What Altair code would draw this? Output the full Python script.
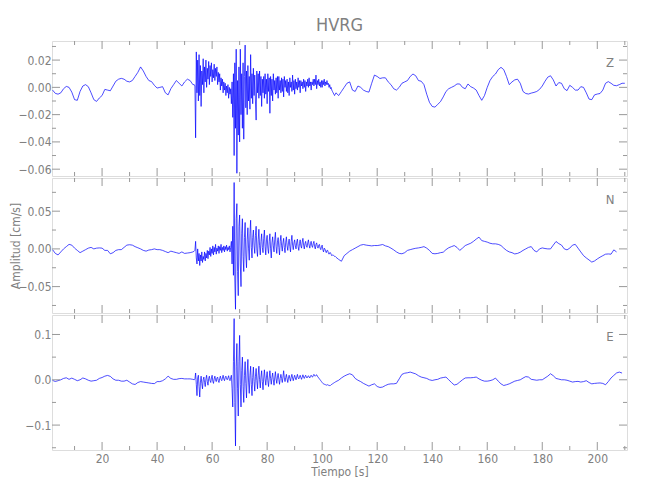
import altair as alt
import pandas as pd
import numpy as np

TITLE = "HVRG"
X_TITLE = "Tiempo [s]"
Y_TITLE = "Amplitud [cm/s]"
COMPONENTS = ["Z", "N", "E"]

# sample times: pre-event every 1 s from 2 s, event every 0.25 s from 53.5 s, coda every 1 s from 106 s
T_PRE_START = 2.0
T_ACT_START = 53.5
T_ACT_STEP = 0.25
T_POST_START = 106.0

z_pre = [-0.002, -0.0044, -0.005, -0.004, -0.001, 0.0007, 0.0, -0.0035, -0.009, -0.0095,
         -0.003, 0.001, 0.002, 0.0005, -0.004, -0.009, -0.0103, -0.0078, -0.006, -0.0015,
         -0.002, -0.0025, 0.001, 0.0045, 0.006, 0.0066, 0.006, 0.0045, 0.004, 0.005,
         0.008, 0.011, 0.015, 0.012, 0.008, 0.005, 0.0042, 0.0015, -0.0005, 0.0,
         0.0005, -0.004, -0.0055, -0.001, 0.002, 0.005, 0.003, 0.001, 0.004, 0.006,
         0.005, 0.002]
z_act = [0.002, 0.001, -0.037, 0.026,
         -0.004, 0.020, -0.010, 0.024,
         -0.006, 0.016, -0.014, 0.012,
         0.002, 0.021, -0.004, 0.015,
         0.004, 0.020, 0.000, 0.014,
         0.006, 0.019, 0.002, 0.016,
         0.008, 0.018, 0.004, 0.013,
         0.007, 0.017, 0.005, 0.014,
         0.008, 0.015, 0.002, 0.011,
         0.004, 0.010, -0.002, 0.007,
         0.001, 0.006, -0.004, 0.004,
         -0.002, 0.003, -0.006, 0.001,
         -0.004, 0.002, -0.008, 0.000,
         -0.005, -0.001,
         -0.012, 0.004, -0.022, 0.010,
         -0.050, 0.018, -0.030, 0.028,
         -0.063, 0.005, -0.035, 0.015,
         -0.040, 0.028, -0.020, 0.010,
         -0.030, 0.018, -0.038, 0.008,
         0.031, -0.015, 0.012, -0.020,
         0.016, -0.010, 0.008, -0.016,
         0.024, -0.008, 0.010, -0.012,
         0.014, -0.006, 0.009, -0.010,
         -0.024, 0.012, -0.004, 0.010,
         -0.008, 0.012, -0.006, 0.008,
         -0.014, 0.006, -0.004, 0.008,
         -0.008, 0.010, -0.005, 0.006,
         -0.012, 0.010, -0.003, 0.007,
         -0.019, 0.008, -0.006, 0.006,
         -0.010, 0.010, -0.002, 0.005,
         -0.005, 0.007, -0.004, 0.008,
         -0.008, 0.008, -0.002, 0.005,
         -0.004, 0.007, -0.003, 0.006,
         -0.007, 0.008, 0.000, 0.005,
         -0.003, 0.006, -0.004, 0.004,
         -0.006, 0.007, 0.000, 0.004,
         -0.003, 0.009, -0.002, 0.005,
         -0.005, 0.006, -0.001, 0.004,
         -0.002, 0.007, 0.000, 0.005,
         -0.004, 0.005, 0.001, 0.004,
         -0.001, 0.006, 0.000, 0.005,
         -0.003, 0.004, 0.001, 0.006,
         0.000, 0.007, 0.001, 0.004,
         -0.002, 0.004, 0.002, 0.006,
         0.001, 0.006, 0.002, 0.009,
         -0.001, 0.005, 0.002, 0.006,
         0.001, 0.004, 0.000, 0.005,
         0.000, 0.005, 0.002, 0.006,
         0.001, 0.004, 0.002, 0.005,
         0.002, 0.003, 0.000, 0.002,
         -0.001, 0.000, -0.002, -0.003,
         -0.004, -0.005, -0.006, -0.005,
         -0.004]
z_post = [-0.006, -0.003, 0.0, 0.003, 0.004, -0.002, -0.003, 0.001, 0.0, -0.002,
          -0.003, -0.0035, 0.003, 0.009, 0.008, 0.0065, 0.007, 0.007, 0.004, 0.002,
          -0.001, -0.002, 0.0, 0.003, 0.004, 0.005, 0.008, 0.0098, 0.0085, 0.005,
          0.0045, 0.002, -0.005, -0.011, -0.014, -0.0145, -0.0125, -0.0105, -0.007, -0.003,
          -0.001, 0.0, 0.001, 0.0025, 0.0025, 0.0, -0.001, 0.0025, 0.0005, -0.0005,
          -0.002, -0.006, -0.0095, -0.006, 0.0, 0.005, 0.008, 0.0098, 0.013, 0.0147,
          0.013, 0.008, 0.002, 0.004, 0.0055, 0.006, 0.003, -0.003, -0.0045, -0.0049,
          -0.0042, -0.0037, -0.003, -0.0015, 0.001, 0.0045, 0.0075, 0.0085, 0.0055, 0.001,
          0.0035, 0.003, -0.001, -0.0024, 0.0015, 0.0, -0.002, -0.002, 0.0005, 0.0,
          -0.004, -0.0086, -0.009, -0.0055, -0.0049, -0.0045, -0.002, 0.003, 0.0042, 0.003,
          0.0015, 0.0012, 0.002, 0.003, 0.003]

n_pre = [-0.001, -0.006, -0.008, -0.004, 0.0, 0.003, 0.006, 0.005, 0.001, -0.002,
         -0.005, -0.003, -0.001, 0.001, 0.002, 0.0, 0.001, 0.0013, 0.001, -0.002,
         -0.002, -0.0065, -0.005, -0.002, -0.001, -0.001, 0.002, 0.005, 0.0055, 0.005,
         0.003, 0.0015, 0.0, -0.002, -0.003, -0.0015, -0.001, 0.0, -0.001, -0.001,
         -0.002, -0.0035, -0.005, -0.003, -0.004, -0.005, -0.006, -0.004, -0.006, -0.0055,
         -0.005, -0.004]
n_act = [-0.003, -0.002, 0.010, -0.012,
         -0.020, 0.000, -0.016, -0.006,
         -0.022, -0.008, -0.016, -0.004,
         -0.018, -0.010, -0.014, -0.004,
         -0.016, -0.006, -0.012, -0.002,
         -0.013, -0.003, -0.008, 0.002,
         -0.010, 0.000, -0.006, 0.004,
         -0.008, 0.002, -0.004, 0.006,
         -0.007, 0.001, -0.003, 0.004,
         -0.006, 0.003, -0.002, 0.006,
         -0.005, 0.002, -0.002, 0.004,
         -0.004, 0.003, -0.001, 0.005,
         -0.003, 0.002, -0.001, 0.004,
         -0.004, 0.002,
         0.010, -0.020, 0.030, -0.035,
         0.088, -0.040, -0.080, 0.040,
         0.060, -0.030, -0.062, 0.030,
         0.045, -0.020, -0.050, 0.020,
         0.040, -0.010, -0.030, 0.015,
         0.035, -0.008, -0.025, 0.012,
         0.028, 0.000, -0.015, 0.020,
         0.038, 0.002, -0.012, 0.015,
         0.025, 0.004, -0.006, 0.018,
         0.030, 0.000, -0.010, 0.012,
         0.026, 0.004, -0.008, 0.010,
         0.020, 0.002, -0.005, 0.014,
         0.025, 0.003, -0.008, 0.012,
         0.018, 0.001, -0.006, 0.010,
         0.020, 0.000, -0.012, 0.008,
         0.016, 0.004, -0.004, 0.012,
         0.022, 0.003, -0.006, 0.009,
         0.015, 0.002, -0.008, 0.010,
         0.018, 0.004, -0.003, 0.008,
         0.014, 0.002, -0.005, 0.009,
         0.016, 0.004, -0.002, 0.008,
         0.013, 0.003, -0.004, 0.010,
         0.018, 0.005, -0.001, 0.008,
         0.012, 0.004, 0.000, 0.009,
         0.013, 0.003, -0.002, 0.007,
         0.012, 0.004, 0.001, 0.009,
         0.014, 0.005, 0.000, 0.007,
         0.010, 0.004, 0.002, 0.008,
         0.012, 0.005, 0.001, 0.007,
         0.010, 0.004, 0.002, 0.007,
         0.010, 0.003, 0.000, 0.006,
         0.008, 0.003, 0.001, 0.005,
         0.006, 0.001, -0.001, 0.003,
         0.005, -0.001, -0.004, 0.001,
         0.000, -0.003, -0.005, -0.002,
         -0.002, -0.005, -0.007, -0.005,
         -0.005, -0.007, -0.009, -0.008,
         -0.008, -0.009, -0.010, -0.010,
         -0.011]
n_post = [-0.014, -0.0164, -0.009, -0.006, -0.003, -0.001, 0.001, 0.003, 0.005, 0.0058,
          0.005, 0.0045, 0.004, 0.0045, 0.0044, 0.005, 0.0058, 0.004, 0.003, 0.001,
          -0.0013, -0.004, -0.006, -0.0065, -0.005, -0.002, -0.001, 0.0, 0.0008, 0.0013,
          0.002, 0.003, 0.001, -0.002, -0.006, -0.0065, -0.006, -0.005, -0.0044, -0.001,
          0.0015, 0.003, 0.0044, 0.002, -0.002, 0.001, 0.0044, 0.006, 0.0075, 0.010,
          0.013, 0.0156, 0.011, 0.010, 0.009, 0.0075, 0.0067, 0.0067, 0.006, 0.0045,
          0.001, -0.002, -0.004, -0.005, -0.0067, -0.006, -0.0044, -0.002, 0.0, 0.002,
          0.003, -0.002, -0.004, 0.0, 0.0013, 0.0005, 0.0, 0.0, 0.005, 0.0098,
          0.007, 0.005, 0.0, -0.0013, 0.001, 0.005, 0.006, 0.001, -0.004, -0.0089,
          -0.012, -0.0147, -0.0175, -0.016, -0.0133, -0.011, -0.009, -0.007, -0.0067, -0.007,
          -0.0013, -0.004]

e_pre = [-0.0015, -0.0037, -0.002, 0.0, 0.003, 0.0044, 0.001, 0.0037, 0.001, -0.002,
         0.0, 0.004, 0.002, -0.001, -0.003, -0.002, -0.001, 0.003, 0.005, 0.008,
         0.0096, 0.0075, 0.002, -0.001, -0.001, -0.003, -0.003, -0.001, -0.005, -0.009,
         -0.0104, -0.006, -0.004, -0.005, -0.006, -0.007, -0.008, -0.0085, -0.004, -0.004,
         -0.002, 0.002, 0.008, 0.003, 0.001, 0.001, 0.0025, 0.003, 0.002, 0.002,
         0.002, 0.001]
e_act = [0.000, 0.002, 0.015, -0.010,
         -0.035, 0.004, 0.010, -0.015,
         -0.038, -0.005, 0.008, -0.008,
         -0.020, 0.000, 0.006, -0.006,
         -0.015, 0.002, 0.010, -0.004,
         -0.012, 0.003, 0.008, -0.002,
         -0.006, 0.004, 0.010, -0.003,
         -0.008, 0.002, 0.008, 0.000,
         -0.004, 0.004, 0.006, -0.002,
         -0.006, 0.003, 0.008, 0.001,
         -0.002, 0.004, 0.010, 0.002,
         -0.002, 0.005, 0.008, 0.002,
         0.000, 0.004, 0.009, 0.001,
         -0.002, 0.004,
         0.010, -0.020, -0.060, 0.040,
         0.135, -0.050, -0.146, 0.030,
         0.080, -0.020, -0.080, 0.040,
         0.098, -0.010, -0.060, 0.020,
         0.050, -0.015, -0.050, 0.010,
         0.040, -0.008, -0.040, 0.015,
         0.045, -0.005, -0.030, 0.010,
         0.030, -0.010, -0.035, 0.005,
         0.028, -0.004, -0.025, 0.008,
         0.025, -0.002, -0.020, 0.010,
         0.030, 0.000, -0.018, 0.006,
         0.020, -0.004, -0.022, 0.004,
         0.022, 0.002, -0.012, 0.006,
         0.018, -0.002, -0.015, 0.004,
         0.020, 0.003, -0.010, 0.005,
         0.015, 0.000, -0.012, 0.004,
         0.018, 0.002, -0.008, 0.006,
         0.014, 0.001, -0.010, 0.003,
         0.012, 0.003, -0.006, 0.006,
         0.020, 0.004, -0.004, 0.005,
         0.012, 0.002, -0.006, 0.004,
         0.010, 0.003, -0.003, 0.006,
         0.012, 0.004, -0.002, 0.005,
         0.010, 0.004, 0.000, 0.006,
         0.012, 0.005, 0.002, 0.006,
         0.010, 0.005, 0.001, 0.006,
         0.011, 0.006, 0.003, 0.007,
         0.010, 0.006, 0.004, 0.007,
         0.009, 0.006, 0.004, 0.008,
         0.010, 0.007, 0.006, 0.009,
         0.012, 0.009, 0.008, 0.010,
         0.011, 0.008, 0.006, 0.004,
         0.002, 0.000, -0.002, -0.004,
         -0.006, -0.008, -0.009, -0.010,
         -0.010, -0.011, -0.012, -0.011,
         -0.011, -0.012, -0.012, -0.013,
         -0.0126, -0.011, -0.010, -0.009,
         -0.008, -0.007, -0.006, -0.005,
         -0.004]
e_post = [-0.001, 0.004, 0.008, 0.011, 0.0133, 0.011, 0.003, -0.001, -0.004, -0.008,
          -0.011, -0.014, -0.011, -0.009, -0.0148, -0.017, -0.016, -0.0126, -0.010, -0.009,
          -0.009, -0.008, 0.002, 0.012, 0.0145, 0.0155, 0.017, 0.015, 0.013, 0.009,
          0.006, 0.0045, 0.003, 0.0, -0.0015, 0.0, 0.001, 0.0037, 0.005, 0.006,
          0.0, -0.006, -0.0115, -0.010, -0.005, 0.0, 0.004, 0.0044, 0.0044, 0.005,
          0.006, 0.002, -0.001, -0.003, -0.003, -0.002, 0.0, 0.0037, -0.003, -0.009,
          -0.0126, -0.011, -0.009, -0.006, -0.003, -0.0015, 0.0, 0.0037, 0.007, 0.006,
          0.001, 0.0, -0.001, 0.0, 0.0, 0.004, 0.008, 0.0133, 0.009, 0.003,
          0.0015, 0.0, 0.0, -0.001, -0.003, -0.005, -0.004, -0.0035, -0.005, -0.004,
          -0.002, -0.006, -0.009, -0.008, -0.0074, -0.007, -0.008, -0.011, -0.004, 0.004,
          0.0096, 0.015, 0.017, 0.0148]

series = {"Z": (z_pre, z_act, z_post), "N": (n_pre, n_act, n_post), "E": (e_pre, e_act, e_post)}

x_domain = [1.8, 210.8]
x_major = [20, 40, 60, 80, 100, 120, 140, 160, 180, 200]
x_minor = [10, 30, 50, 70, 90, 110, 130, 150, 170, 190, 210]

y_domain = {"Z": [-0.065, 0.034], "N": [-0.085, 0.094], "E": [-0.155, 0.143]}
y_major = {"Z": [0.02, 0.0, -0.02, -0.04, -0.06], "N": [0.05, 0.0, -0.05], "E": [0.1, 0.0, -0.1]}
y_minor = {"Z": [0.03, 0.01, -0.01, -0.03, -0.05], "N": [0.075, 0.025, -0.025, -0.075],
           "E": [0.05, -0.05, -0.15]}
y_format = {"Z": ".2f", "N": ".2f", "E": ".1f"}

W, H = 575, 135
GRAY = "#999999"
TXT = "#808080"
FONT = "Liberation Sans Narrow, DejaVu Sans Condensed, sans-serif"
MAJ, MIN = 8, 4

AXIS_STYLE = dict(labelFont=FONT, labelFontSize=12, labelColor=TXT, labelFontWeight="normal",
                  titleFont=FONT, titleFontSize=12, titleColor=TXT, titleFontWeight="normal")


def frame(comp):
    pre, act, post = series[comp]
    t = np.concatenate([
        T_PRE_START + np.arange(len(pre)),
        T_ACT_START + T_ACT_STEP * np.arange(len(act)),
        T_POST_START + np.arange(len(post)),
    ])
    v = np.concatenate([pre, act, post])
    return pd.DataFrame({"t": t, "v": v})


def panel(comp, show_x, show_ytitle, title=False):
    xs = alt.Scale(domain=x_domain, nice=False, zero=False)
    ys = alt.Scale(domain=y_domain[comp], nice=False, zero=False)
    if show_x:
        xaxis = alt.Axis(values=x_major, format="d", title=X_TITLE, tickSize=0, domain=False,
                         grid=False, labelPadding=3, titlePadding=2, labelFlush=False, **AXIS_STYLE)
    else:
        xaxis = None
    ykw = dict(values=y_major[comp], format=y_format[comp], tickSize=0, domain=False,
               grid=False, labelPadding=1, **AXIS_STYLE)
    if show_ytitle:
        ykw["title"] = Y_TITLE
        ykw["titleX"] = -42
        ykw["titleBaseline"] = "top"
    else:
        ykw["title"] = None
    yaxis = alt.Axis(**ykw)

    def yticks(vals, length):
        d = pd.DataFrame({"v": vals})
        base = alt.Chart(d).mark_rule(color=GRAY, strokeWidth=1)
        left = base.encode(y=alt.Y("v:Q", scale=ys, axis=yaxis), x=alt.value(0), x2=alt.value(length))
        right = base.encode(y=alt.Y("v:Q", scale=ys, axis=yaxis), x=alt.value(W), x2=alt.value(W - length))
        return [left, right]

    def xticks(vals, length):
        d = pd.DataFrame({"v": vals})
        base = alt.Chart(d).mark_rule(color=GRAY, strokeWidth=1)
        top = base.encode(x=alt.X("v:Q", scale=xs, axis=xaxis), y=alt.value(0), y2=alt.value(length))
        bottom = base.encode(x=alt.X("v:Q", scale=xs, axis=xaxis), y=alt.value(H), y2=alt.value(H - length))
        return [top, bottom]

    line = alt.Chart(frame(comp)).mark_line(color="#0000ff", strokeWidth=0.7, clip=True).encode(
        x=alt.X("t:Q", scale=xs, axis=xaxis),
        y=alt.Y("v:Q", scale=ys, axis=yaxis),
    )
    layers = [line]
    layers += yticks(y_major[comp], MAJ)
    layers += yticks(y_minor[comp], MIN)
    layers += xticks(x_major, MAJ)
    layers += xticks(x_minor, MIN)
    lab = alt.Chart(pd.DataFrame({"c": [comp]})).mark_text(
        font=FONT, fontSize=13, color=TXT, align="center", baseline="middle").encode(
        text="c:N", x=alt.value(W - 17), y=alt.value(22))
    layers.append(lab)
    ch = alt.layer(*layers).properties(width=W, height=H)
    if title:
        ch = ch.properties(title=alt.TitleParams(TITLE, font=FONT, fontSize=18, fontWeight="normal",
                                                 color=TXT, anchor="middle", frame="group", offset=6))
    return ch


chart = alt.vconcat(
    panel("Z", False, False, title=True),
    panel("N", False, True),
    panel("E", True, False),
    spacing=0,
).properties(
    padding={"left": 0, "top": 8, "right": 0, "bottom": 0}
).configure_view(
    stroke=GRAY, strokeWidth=1
).configure_axis(
    **AXIS_STYLE
).configure(background="white")

chart.save("out.html", embed_options={"renderer": "svg", "actions": False})
